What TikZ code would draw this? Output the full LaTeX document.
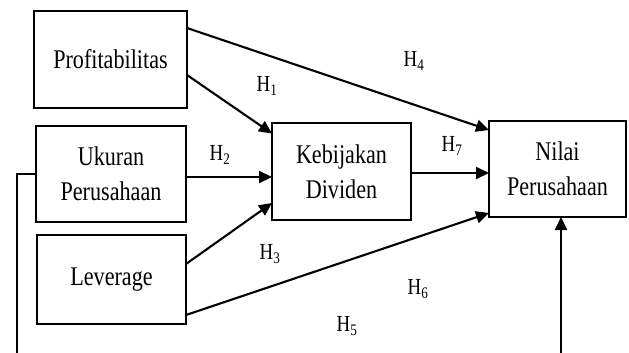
\documentclass[tikz,border=0pt]{standalone}
\usepackage{fontspec}
\setmainfont{Liberation Serif}[FakeStretch=0.82]
\usepackage{tikz}
\usetikzlibrary{arrows.meta, calc}

\begin{document}
\begin{tikzpicture}[x=1pt, y=-1pt,
    box/.style={draw, line width=2.1pt, outer sep=0pt, align=center,
                font=\fontsize{27}{35}\selectfont},
    arr/.style={line width=2.1pt, -{Triangle[length=13pt, width=12pt]}},
    hyp/.style={font=\fontsize{23}{25}\selectfont}]
  \useasboundingbox (0,0) rectangle (629,353);

  % Variables
  \node[box, minimum width=153pt, minimum height=97pt] (prof) at (110.5,59.5) {Profitabilitas};
  \node[box, minimum width=150pt, minimum height=96pt] (ukuran) at (111,174) {Ukuran\\Perusahaan};
  \node[box, minimum width=149pt, minimum height=89pt] (lev) at (111.5,279.5) {Leverage};
  \node[box, minimum width=139pt, minimum height=97pt] (kebijakan) at (341.5,171.5) {Kebijakan\\Dividen};
  \node[box, minimum width=137pt, minimum height=96pt] (nilai) at (557.5,169) {Nilai\\Perusahaan};

  % Paths to dividend policy
  \draw[arr] ([yshift=-15.5pt]prof.east) -- ([yshift=38pt]kebijakan.west);
  \draw[arr] ([yshift=-3pt]ukuran.east) -- ([yshift=-3pt]ukuran.east -| kebijakan.west);
  \draw[arr] ([yshift=15.5pt]lev.east) -- ([yshift=-31.5pt]kebijakan.west);

  % Paths to firm value
  \draw[arr] ([yshift=31.5pt]prof.east) -- ([yshift=39pt]nilai.west);
  \draw[arr] ([yshift=-1.5pt]kebijakan.east) -- ([yshift=-1.5pt]kebijakan.east -| nilai.west);
  \draw[arr] ([yshift=-35.5pt]lev.east) -- ([yshift=-44pt]nilai.west);

  % H5 (runs off the bottom edge)
  \coordinate (bl) at (17,360);
  \coordinate (br) at (561,360);
  \draw[line width=2.1pt] (ukuran.west) -- (ukuran.west -| bl) -- (bl);
  \draw[arr] (br) -- (br |- nilai.south);

  % Hypothesis labels
  \node[hyp] (h1) at (267,86) {H\textsubscript{1}};
  \node[hyp] (h2) at (220,155) {H\textsubscript{2}};
  \node[hyp] (h3) at (270,254) {H\textsubscript{3}};
  \node[hyp] (h4) at (414,61) {H\textsubscript{4}};
  \node[hyp] (h5) at (347,326) {H\textsubscript{5}};
  \node[hyp] (h6) at (418,289) {H\textsubscript{6}};
  \node[hyp] (h7) at (452,146) {H\textsubscript{7}};
\end{tikzpicture}
\end{document}
